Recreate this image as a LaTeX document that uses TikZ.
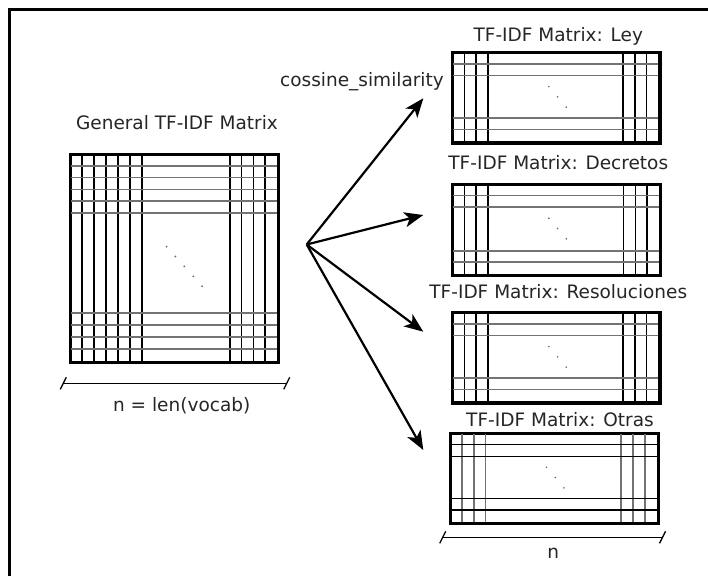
\documentclass[tikz,border=0pt]{standalone}
\usepackage{fontspec}
\setmainfont{DejaVu Sans}
\usetikzlibrary{arrows.meta}

\tikzset{
  label/.style={inner sep=0pt, anchor=base, text=black!85,
    font=\fontsize{18.5}{22}\selectfont},
  matbox/.style={draw, line width=2.3pt, inner sep=0pt, rectangle},
  gridv/.style={line width=1.4pt, black},
  gridh/.style={line width=1.8pt, black!55},
  dotmark/.style={fill=black!60, draw=none},
  conn/.style={line width=2.2pt, -{Stealth[length=19pt,width=15pt,inset=5pt]}},
  dimline/.style={line width=1.4pt},
  dimtick/.style={line width=1.3pt},
}

% inner grid of a small matrix: local origin at the north-west corner
\newcommand\smallgrid[4]{% width, height, vertical style, horizontal style
  \foreach \d in {12.3,24,35.7} {\draw[#3] (\d,0) -- (\d,#2);}
  \foreach \d in {11.7,23.3,35.3} {\draw[#3] (#1-\d,0) -- (#1-\d,#2);}
  \foreach \d in {11.7,23.4} {\draw[#4] (0,\d) -- (#1,\d);}
  \foreach \d in {11.7,23.1} {\draw[#4] (0,#2-\d) -- (#1,#2-\d);}
  \foreach \k in {0,1,2} {\fill[dotmark] (96.7+8.7*\k,34.4+10.3*\k) circle (0.9);}
}

\begin{document}
\begin{tikzpicture}[x=1pt,y=-1pt]
\useasboundingbox (0,0) rectangle (708,576);
\fill[white] (0,0) rectangle (708,576);

% outer frame (top and left edges)
\draw[line width=2.5pt] (9.25,576) -- (9.25,9.25) -- (708,9.25);

% ---- general matrix ----
\node[matbox, minimum width=207pt, minimum height=207pt] (gen) at (174.5,258.5) {};
\begin{scope}[shift={(gen.north west)}]
  \foreach \d in {12,24,36,48,60,72} {\draw[gridv] (\d,0) -- (\d,207);}
  \foreach \d in {11.75,23.5,35.25,47} {\draw[gridv] (207-\d,0) -- (207-\d,207);}
  \foreach \d in {11.85,23.7,35.55,47.4,59.25} {\draw[gridh] (0,\d) -- (207,\d);}
  \foreach \d in {11.9,23.8,35.7,47.6} {\draw[gridh] (0,207-\d) -- (207,207-\d);}
  \foreach \k in {0,...,4} {\fill[dotmark] (96.7+8.9*\k,92.7+9.9*\k) circle (1);}
\end{scope}
\draw[matbox] (gen.north west) rectangle (gen.south east);
\node[label] (gentitle) at (177,129) {General TF-IDF Matrix};

% dimension of the general matrix
\coordinate (da) at (63.3,383.3);
\coordinate (db) at (286.7,383.3);
\draw[dimline] (da) -- (db);
\draw[dimtick] (da) ++(-3,6) -- ++(6,-12);
\draw[dimtick] (db) ++(-3,6) -- ++(6,-12);
\node[label] (vocab) at (181.7,411.5) {n = len(vocab)};

% ---- per-type matrices ----
\node[matbox, minimum width=206pt, minimum height=89pt] (ley) at (556.3,97.8) {};
\begin{scope}[shift={(ley.north west)}]\smallgrid{206}{89}{gridv}{gridh}\end{scope}
\draw[matbox] (ley.north west) rectangle (ley.south east);
\node[label] (tley) at (558.3,41.7) {TF-IDF Matrix: Ley};

\node[matbox, minimum width=206.7pt, minimum height=90pt] (dec) at (556.65,230) {};
\begin{scope}[shift={(dec.north west)}]\smallgrid{206.7}{90}{gridv}{gridh}\end{scope}
\draw[matbox] (dec.north west) rectangle (dec.south east);
\node[label] (tdec) at (558.3,169.3) {TF-IDF Matrix: Decretos};

\node[matbox, minimum width=206pt, minimum height=89pt] (res) at (556.3,357.8) {};
\begin{scope}[shift={(res.north west)}]\smallgrid{206}{89}{gridv}{gridh}\end{scope}
\draw[matbox] (res.north west) rectangle (res.south east);
\node[label] (tres) at (558.3,298.3) {TF-IDF Matrix: Resoluciones};

\node[matbox, minimum width=206.7pt, minimum height=88.7pt] (otr) at (554.35,478.35) {};
\begin{scope}[shift={(otr.north west)}]\smallgrid{206.7}{88.7}{gridh}{gridv}\end{scope}
\draw[matbox] (otr.north west) rectangle (otr.south east);
\node[label] (totr) at (560,426.7) {TF-IDF Matrix: Otras};

% dimension of the per-type matrices
\coordinate (dc) at (442.7,537.3);
\coordinate (dd) at (662.5,537.3);
\draw[dimline] (dc) -- (dd);
\draw[dimtick] (dc) ++(-3,6) -- ++(6,-12);
\draw[dimtick] (dd) ++(-3,6) -- ++(6,-12);
\node[label] (nlab) at (553.3,558.3) {n};

% ---- similarity arrows ----
\coordinate (hub) at (306.7,244.5);
\coordinate (toley) at (423.3,98.3);
\coordinate (todec) at (423.3,215);
\coordinate (tores) at (423.3,331.7);
\coordinate (tootr) at (423.3,450);
\draw[conn] (hub) -- (toley);
\draw[conn] (hub) -- (todec);
\draw[conn] (hub) -- (tores);
\draw[conn] (hub) -- (tootr);
\node[label, anchor=base east] (cos) at (444,86.7) {cossine\_similarity};
\end{tikzpicture}
\end{document}
